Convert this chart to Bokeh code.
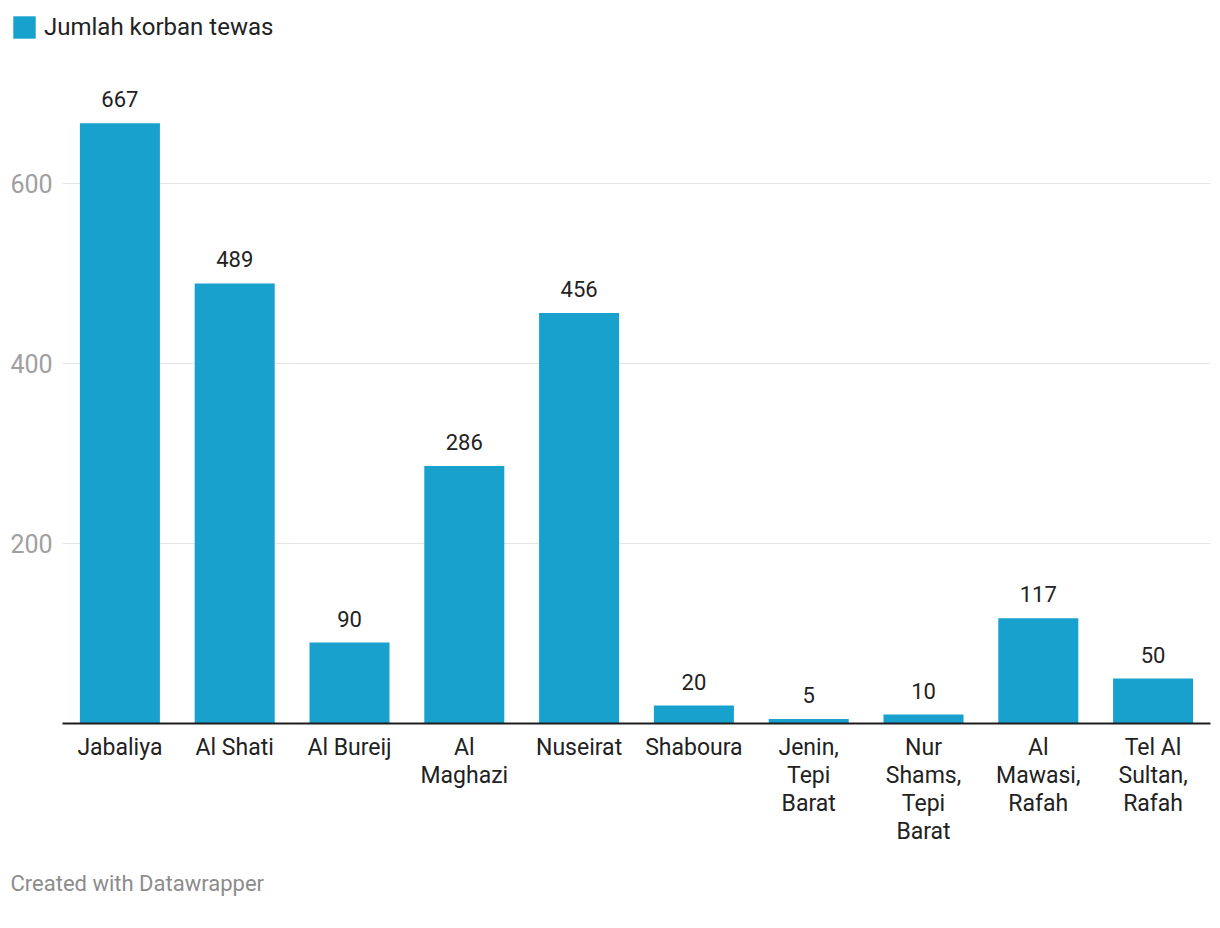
from bokeh.plotting import figure
from bokeh.models import (Range1d, ColumnDataSource, FixedTicker,
                          Legend, LegendItem, Title)
from bokeh.core.properties import value
from bokeh.embed import file_html
from bokeh.resources import INLINE

categories = ["Jabaliya", "Al Shati", "Al Bureij", "Al\nMaghazi", "Nuseirat",
              "Shaboura", "Jenin,\nTepi\nBarat", "Nur\nShams,\nTepi\nBarat",
              "Al\nMawasi,\nRafah", "Tel Al\nSultan,\nRafah"]
korban = [667, 489, 90, 286, 456, 20, 5, 10, 117, 50]
labels = [str(v) for v in korban]
y_ticks = [200, 400, 600]
y_tick_labels = [str(t) for t in y_ticks]
series_name = "Jumlah korban tewas"
footer = "Created with Datawrapper"

FONT = "Roboto"
BAR = "#18a1cd"

W, H = 1220, 928
frame_left, frame_right = 0, 1210
frame_top, frame_bottom = 0, 723
px_per_unit_y = 0.9
slot = 114.8            # px per category
first_center = 119.4    # px of first category centre

n = len(categories)
idx = list(range(n))
x_start = -(first_center - frame_left) / slot
x_end = (n - 1) + (frame_right - (first_center + (n - 1) * slot)) / slot
y_end = (frame_bottom - frame_top) / px_per_unit_y

p = figure(width=W, height=H, output_backend="svg", toolbar_location=None,
           x_range=Range1d(x_start, x_end), y_range=Range1d(0, y_end),
           min_border_left=frame_left, min_border_right=W - frame_right,
           min_border_top=frame_top, min_border_bottom=H - frame_bottom)
p.outline_line_color = None
p.background_fill_color = "white"
p.border_fill_color = "white"
p.grid.grid_line_color = None

# gridlines limited to the category span
p.segment(x0=[-0.5] * len(y_ticks), x1=[n - 0.5] * len(y_ticks),
          y0=y_ticks, y1=y_ticks, line_color="#e5e5e5", line_width=1)

src = ColumnDataSource(dict(x=idx, val=korban, lab=labels))
bars = p.vbar(x="x", top="val", width=0.697, source=src, fill_color=BAR, line_color=None)

p.text(x="x", y="val", text="lab", source=src, text_align="center",
       text_baseline="bottom", y_offset=-16, text_font=value(FONT),
       text_font_size="22px", text_color="#222222")

# y tick labels (left aligned at the canvas edge, as in the reference)
p.text(x=[x_start] * len(y_ticks), y=y_ticks, text=y_tick_labels, x_offset=10,
       text_align="left", text_baseline="middle", text_font=value(FONT),
       text_font_size="25px", text_color="#a0a0a0")

p.yaxis.visible = False

p.xaxis.ticker = FixedTicker(ticks=idx)
p.xaxis.major_label_overrides = {i: c for i, c in zip(idx, categories)}
p.xaxis.bounds = (-0.5, n - 0.5)
p.xaxis.axis_line_color = "#1d1d1d"
p.xaxis.axis_line_width = 2
p.xaxis.major_tick_line_color = None
p.xaxis.minor_tick_line_color = None
p.xaxis.major_tick_out = 0
p.xaxis.major_tick_in = 0
p.xaxis.major_label_text_font = FONT
p.xaxis.major_label_text_font_size = "23px"
p.xaxis.major_label_text_color = "#222222"
p.xaxis.major_label_standoff = 10
p.xaxis.major_label_text_line_height = 1.045

legend = Legend(items=[LegendItem(label=series_name, renderers=[bars])],
                location=(10, frame_bottom - 41), orientation="horizontal",
                glyph_width=28, glyph_height=28, label_standoff=6,
                label_text_font=FONT, label_text_font_size="24px",
                label_text_color="#222222", padding=0, margin=0,
                border_line_alpha=0, background_fill_alpha=0,
                label_height=28)
p.add_layout(legend, "center")

p.add_layout(Title(text=footer, align="left", offset=10, standoff=40,
                   vertical_align="bottom",
                   text_font=FONT, text_font_size="22px", text_font_style="normal",
                   text_color="#8c8c8c"), "below")

open("out.html", "w").write(file_html(p, INLINE))
